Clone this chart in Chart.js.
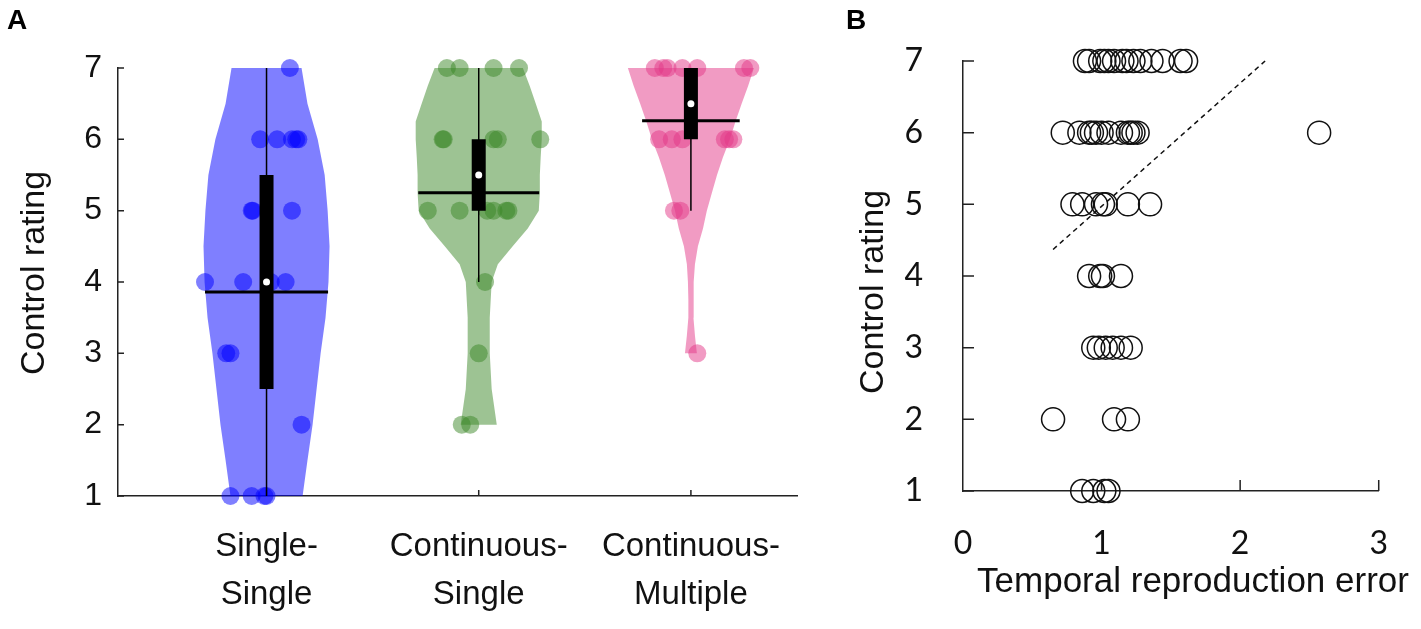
<!DOCTYPE html>
<html>
<head>
<meta charset="utf-8">
<script src="https://cdn.jsdelivr.net/npm/chart.js@4.4.1/dist/chart.umd.min.js"></script>
<style>
  html, body { margin: 0; padding: 0; background: #fff; }
  body { width: 1421px; height: 629px; position: relative; overflow: hidden; }
  .panel { position: absolute; top: 0; height: 629px; }
  #wrapA { left: 0; width: 840px; }
  #wrapB { left: 840px; width: 581px; }
  .letter { position: absolute; top: 6px; font: bold 28px "Liberation Sans", Arial, sans-serif; line-height: 1; color: #000; }
</style>
</head>
<body>
<div class="panel" id="wrapA"><canvas id="chartA"></canvas></div>
<div class="panel" id="wrapB"><canvas id="chartB"></canvas></div>
<div class="letter" style="left:7px">A</div>
<div class="letter" style="left:846px">B</div>
<script>
// ---- Panel A : violins ----
const groups = ["Single-Single", "Continuous-Single", "Continuous-Multiple"];
const groupLabels = [["Single-", "Single"], ["Continuous-", "Single"], ["Continuous-", "Multiple"]];
const groupColors = [[0, 0, 255], [60, 135, 40], [228, 55, 135]];

const q1 = [2.5, 5, 6];
const q3 = [5.5, 6, 7];
const medians = [4, 5.5, 6.5];
const means = [3.86, 5.25, 6.26];
const whiskLow = [1, 4, 5];
const whiskHigh = [7, 7, 7];
const meanHalf = [0.29, 0.285, 0.23];

const violinLevels = [
  [1, 1.5, 2, 2.5, 3, 3.5, 4, 4.5, 5, 5.5, 6, 6.5, 7],
  [2, 2.5, 3, 3.5, 4, 4.25, 4.5, 4.75, 5, 5.25, 5.5, 5.75, 6, 6.25, 6.5, 6.75, 7],
  [3, 3.25, 3.5, 3.75, 4, 4.25, 4.5, 4.75, 5, 5.25, 5.5, 5.75, 6, 6.25, 6.5, 6.75, 7]
];
const violinHalf = [
  [0.17, 0.193, 0.217, 0.236, 0.255, 0.278, 0.292, 0.297, 0.288, 0.274, 0.241, 0.193, 0.165],
  [0.085, 0.061, 0.052, 0.052, 0.061, 0.09, 0.16, 0.231, 0.283, 0.288, 0.288, 0.292, 0.297, 0.297, 0.269, 0.24, 0.208],
  [0.028, 0.019, 0.012, 0.012, 0.014, 0.019, 0.033, 0.057, 0.075, 0.099, 0.123, 0.151, 0.184, 0.21, 0.239, 0.27, 0.297]
];

// individual ratings (x = jittered position)
const ssX = [1.11, 0.97, 1.05, 1.12, 1.14, 1.15, 0.93, 0.935, 1.12, 0.71, 0.89, 1.02, 1.09, 0.81, 0.83, 1.165, 0.83, 0.93, 0.99, 1.0];
const ssY = [7, 6, 6, 6, 6, 6, 5, 5, 5, 4, 4, 4, 4, 3, 3, 2, 1, 1, 1, 1];
const csX = [1.85, 1.91, 2.07, 2.19, 1.83, 1.835, 2.07, 2.09, 2.29, 1.76, 1.91, 2.04, 2.07, 2.13, 2.14, 2.03, 2.0, 1.92, 1.96];
const csY = [7, 7, 7, 7, 6, 6, 6, 6, 6, 5, 5, 5, 5, 5, 5, 4, 3, 2, 2];
const cmX = [2.83, 2.87, 2.89, 2.96, 3.03, 3.25, 3.28, 2.85, 2.91, 2.96, 3.16, 3.18, 3.2, 2.92, 2.95, 3.03];
const cmY = [7, 7, 7, 7, 7, 7, 7, 6, 6, 6, 6, 6, 6, 5, 5, 3];

// ---- Panel B : scatter ----
const errX = [
  0.88, 0.91, 0.99, 1.02, 1.05, 1.09, 1.15, 1.18, 1.23, 1.28, 1.36, 1.44, 1.57, 1.61,
  0.72, 0.84, 0.91, 0.93, 0.96, 1.0, 1.05, 1.14, 1.19, 1.21, 1.23, 1.26, 2.57,
  0.79, 0.86, 0.96, 1.01, 1.03, 1.19, 1.35,
  0.91, 0.99, 1.01, 1.14,
  0.94, 0.98, 1.03, 1.08, 1.14, 1.21,
  0.65, 1.09, 1.19,
  0.86, 0.94, 1.02, 1.05
];
const errY = [
  7, 7, 7, 7, 7, 7, 7, 7, 7, 7, 7, 7, 7, 7,
  6, 6, 6, 6, 6, 6, 6, 6, 6, 6, 6, 6, 6,
  5, 5, 5, 5, 5, 5, 5,
  4, 4, 4, 4,
  3, 3, 3, 3, 3, 3,
  2, 2, 2,
  1, 1, 1, 1
];
const fitX = [0.65, 2.18];
const fitY = [4.37, 7.0];
const ratingTicks = [1, 2, 3, 4, 5, 6, 7];
const errTicks = [0, 1, 2, 3];

const sans = '"Liberation Sans", Arial, Helvetica, sans-serif';
const rgba = (c, a) => `rgba(${c[0]},${c[1]},${c[2]},${a})`;
const pts = (xs, ys) => xs.map((x, k) => ({ x: x, y: ys[k] }));

// inward tick marks, drawn under the datasets
function innerTicks(xVals, yVals, len) {
  return {
    id: "innerTicks",
    beforeDatasetsDraw(chart) {
      const { ctx, chartArea, scales } = chart;
      ctx.save();
      ctx.strokeStyle = "#222";
      ctx.lineWidth = 1.5;
      ctx.beginPath();
      xVals.forEach(v => {
        const px = scales.x.getPixelForValue(v);
        ctx.moveTo(px, chartArea.bottom);
        ctx.lineTo(px, chartArea.bottom - len);
      });
      yVals.forEach(v => {
        const py = scales.y.getPixelForValue(v);
        ctx.moveTo(chartArea.left, py);
        ctx.lineTo(chartArea.left + len, py);
      });
      ctx.stroke();
      ctx.restore();
    }
  };
}

// axis titles placed where the reference has them
function axisTitles(items) {
  return {
    id: "axisTitles",
    afterDraw(chart) {
      const ctx = chart.ctx;
      items.forEach(t => {
        ctx.save();
        ctx.font = t.font;
        ctx.fillStyle = "#111";
        ctx.textAlign = "center";
        ctx.textBaseline = "alphabetic";
        ctx.translate(t.x, t.y);
        if (t.rotate) ctx.rotate(-Math.PI / 2);
        ctx.fillText(t.text, 0, 0);
        ctx.restore();
      });
    }
  };
}

// datasets for panel A
const dsA = [];
const groupPts = [[ssX, ssY], [csX, csY], [cmX, cmY]];
groups.forEach((g, i) => {
  const c = i + 1;
  const right = violinLevels[i].map((y, k) => ({ x: c + violinHalf[i][k], y: y }));
  const left = violinLevels[i].map((y, k) => ({ x: c - violinHalf[i][k], y: y })).reverse();
  dsA.push({
    label: g + " violin",
    data: right.concat(left),
    showLine: true,
    fill: "shape",
    backgroundColor: rgba(groupColors[i], 0.5),
    borderColor: "rgba(0,0,0,0)",
    borderWidth: 0,
    pointRadius: 0,
    tension: 0,
    order: 5,
    clip: false
  });
  dsA.push({
    label: g,
    data: pts(groupPts[i][0], groupPts[i][1]),
    pointRadius: 9,
    pointBackgroundColor: rgba(groupColors[i], 0.5),
    pointBorderWidth: 0,
    order: 4,
    clip: false
  });
  dsA.push({
    data: [{ x: c, y: whiskLow[i] }, { x: c, y: whiskHigh[i] }],
    showLine: true, borderColor: "#000", borderWidth: 1.5, pointRadius: 0, order: 3, clip: false
  });
  dsA.push({
    data: [{ x: c, y: q1[i] }, { x: c, y: q3[i] }],
    showLine: true, borderColor: "#000", borderWidth: 14, borderCapStyle: "butt", pointRadius: 0, order: 2, clip: false
  });
  dsA.push({
    data: [{ x: c - meanHalf[i], y: means[i] }, { x: c + meanHalf[i], y: means[i] }],
    showLine: true, borderColor: "#000", borderWidth: 3, pointRadius: 0, order: 1, clip: false
  });
  dsA.push({
    data: [{ x: c, y: medians[i] }],
    pointRadius: 3.5, pointBackgroundColor: "#fff", pointBorderWidth: 0, order: 0, clip: false
  });
});

new Chart(document.getElementById("chartA"), {
  type: "scatter",
  data: { datasets: dsA },
  options: {
    responsive: true,
    maintainAspectRatio: false,
    animation: false,
    layout: { padding: { left: 0, right: 43, top: 68, bottom: 0 } },
    plugins: { legend: { display: false }, tooltip: { enabled: false } },
    scales: {
      x: {
        type: "linear", min: 0.3, max: 3.5,
        grid: { display: false, drawTicks: false },
        border: { display: true, color: "#222", width: 1.5 },
        afterBuildTicks: s => { s.ticks = [1, 2, 3].map(v => ({ value: v })); },
        afterFit: s => { s.height = 133; },
        ticks: {
          callback: v => groupLabels[v - 1],
          font: { family: sans, size: 33, lineHeight: 1.45 },
          color: "#111", padding: 27, maxRotation: 0, autoSkip: false
        }
      },
      y: {
        min: 1, max: 7,
        grid: { display: false, drawTicks: false },
        border: { display: true, color: "#222", width: 1.5 },
        afterFit: s => { s.width = 118; },
        ticks: { stepSize: 1, font: { family: sans, size: 32 }, color: "#111", padding: 16 }
      }
    }
  },
  plugins: [
    innerTicks([1, 2, 3], ratingTicks, 6),
    axisTitles([{ text: "Control rating", x: 44, y: 273, rotate: true, font: "34px " + sans }])
  ]
});

new Chart(document.getElementById("chartB"), {
  type: "scatter",
  data: {
    datasets: [
      {
        label: "Participants",
        data: pts(errX, errY),
        pointRadius: 11.5,
        pointBackgroundColor: "rgba(0,0,0,0)",
        pointBorderColor: "#111",
        pointBorderWidth: 1.5,
        clip: false
      },
      {
        label: "Fit",
        data: pts(fitX, fitY),
        showLine: true,
        borderColor: "#111",
        borderWidth: 1.5,
        borderDash: [5, 4],
        pointRadius: 0,
        clip: false
      }
    ]
  },
  options: {
    responsive: true,
    maintainAspectRatio: false,
    animation: false,
    layout: { padding: { left: 0, right: 30, top: 61, bottom: 0 } },
    plugins: { legend: { display: false }, tooltip: { enabled: false } },
    scales: {
      x: {
        type: "linear", min: 0, max: 3,
        grid: { display: false, drawTicks: false },
        border: { display: true, color: "#222", width: 1.5 },
        afterBuildTicks: s => { s.ticks = errTicks.map(v => ({ value: v })); },
        afterFit: s => { s.height = 138; },
        ticks: { font: { family: "Lato, sans-serif", size: 32 }, color: "#111", padding: 33 }
      },
      y: {
        min: 1, max: 7,
        grid: { display: false, drawTicks: false },
        border: { display: true, color: "#222", width: 1.5 },
        afterFit: s => { s.width = 123; },
        ticks: { stepSize: 1, font: { family: "Lato, sans-serif", size: 32 }, color: "#111", padding: 40 }
      }
    }
  },
  plugins: [
    innerTicks([1, 2, 3], ratingTicks, 11),
    axisTitles([
      { text: "Control rating", x: 43, y: 292, rotate: true, font: "34px " + sans },
      { text: "Temporal reproduction error", x: 353, y: 592, rotate: false, font: "35px " + sans }
    ])
  ]
});
</script>
</body>
</html>
